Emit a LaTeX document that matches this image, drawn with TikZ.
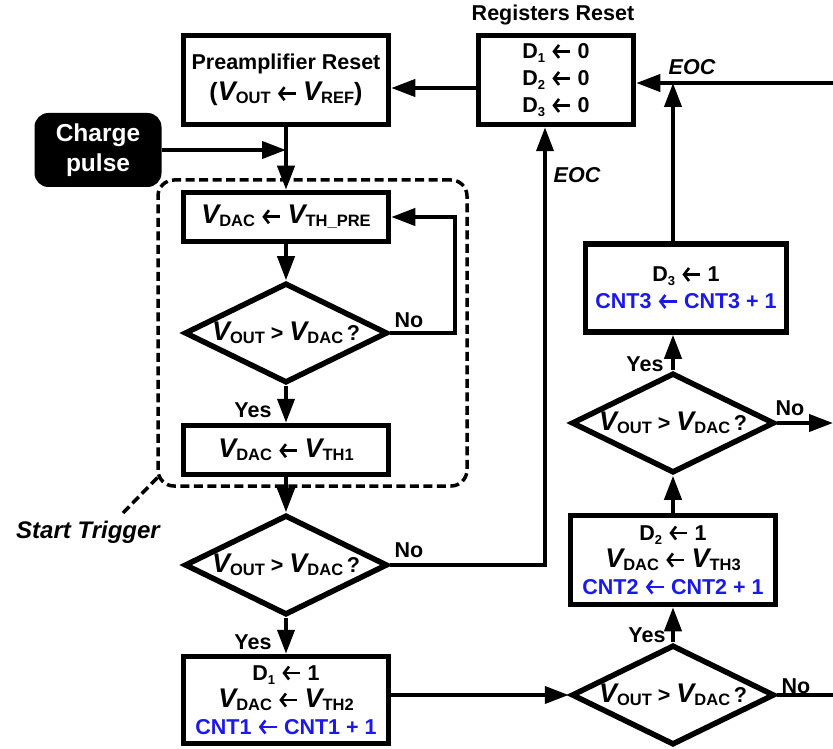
\documentclass[tikz,border=0pt]{standalone}
\usepackage{fontspec}
\setmainfont{Liberation Sans}
\usetikzlibrary{positioning, arrows.meta, shapes.geometric, fit}
\definecolor{cntblue}{RGB}{25,25,235}

\newcommand{\lar}{\tikz[baseline=-7pt]\draw[line width=2.6pt, {Straight Barb[length=5pt, width=13pt]}-] (0pt,0pt) -- (18pt,0pt);}
\newcommand{\low}[2]{\raisebox{-3pt}{\fontsize{#1}{#1}\selectfont #2}}
\newcommand{\vsig}[1]{{\fontsize{27}{27}\selectfont\itshape V}\low{16.5}{#1}}
\newcommand{\dreg}[1]{D\raisebox{-4pt}{\fontsize{13}{13}\selectfont #1}}

\begin{document}
\begin{tikzpicture}[x=1pt, y=-1pt, node distance=120pt, font=\fontsize{21.5}{27}\selectfont\bfseries]
    \tikzstyle{block} = [rectangle, draw, line width=5.5pt, align=center, inner sep=0pt, minimum width=205pt]
    \tikzstyle{decision} = [diamond, draw, line width=5.5pt, aspect=2, inner sep=0pt, minimum width=203pt, minimum height=100pt]
    \tikzstyle{pulse} = [rectangle, rounded corners=14pt, fill=black, text=white, align=center, minimum width=127pt, minimum height=74pt, font=\fontsize{24.5}{30}\selectfont\bfseries]
    \tikzstyle{arrow} = [line width=4pt, -{Triangle[length=24pt, width=17pt]}]
    \tikzstyle{wire} = [line width=4pt]
    \tikzstyle{trigger} = [draw, line width=3.5pt, dash pattern=on 9pt off 4.5pt, rounded corners=16pt, inner sep=0pt]
    \tikzstyle{tag} = [inner sep=0pt]
    \tikzstyle{eoc} = [inner sep=0pt, font=\fontsize{21.5}{27}\selectfont\bfseries\itshape]

    \useasboundingbox (0,0) rectangle (833,749);

    % left column
    \node [block, minimum height=89pt] (pre) at (286,80) {Preamplifier Reset\\[4pt]{\fontsize{25}{25}\selectfont(}\vsig{OUT} \lar{} \vsig{REF}{\fontsize{25}{25}\selectfont)}};
    \node [block, below of=pre, node distance=137pt, minimum height=49pt] (thpre) {\vsig{DAC} \lar{} \vsig{TH\_PRE}};
    \node [decision, below of=thpre, node distance=116pt] (d1) {\vsig{OUT} > \vsig{DAC}\,?};
    \node [block, below of=d1, node distance=117pt, minimum height=49pt] (th1) {\vsig{DAC} \lar{} \vsig{TH1}};
    \node [decision, below of=th1, node distance=115pt] (d2) {\vsig{OUT} > \vsig{DAC}\,?};
    \node [block, below of=d2, node distance=135pt, minimum height=87pt] (box1) {\dreg{1} \lar{} 1\\\vsig{DAC} \lar{} \vsig{TH2}\\\textcolor{cntblue}{CNT1 \lar{} CNT1 + 1}};

    \node [pulse] (charge) at (98,150) {Charge\\pulse};
    \node [block, right of=pre, node distance=270pt, minimum width=155pt, minimum height=89pt] (regs) {\dreg{1} \lar{} 0\\\dreg{2} \lar{} 0\\\dreg{3} \lar{} 0};
    \node [tag] (regtitle) at (553,15) {Registers Reset};

    % right column
    \node [decision] (d4) at (673,695) {\vsig{OUT} > \vsig{DAC}\,?};
    \node [block, above of=d4, node distance=135pt, minimum height=89pt] (box2) {\dreg{2} \lar{} 1\\\vsig{DAC} \lar{} \vsig{TH3}\\\textcolor{cntblue}{CNT2 \lar{} CNT2 + 1}};
    \node [decision, above of=box2, node distance=137pt] (d3) {\vsig{OUT} > \vsig{DAC}\,?};
    \node [block, minimum width=201pt, minimum height=88pt] (box3) at (686,288) {\dreg{3} \lar{} 1\\\textcolor{cntblue}{CNT3 \lar{} CNT3 + 1}};

    % start trigger group
    \coordinate (grpa) at (158,180);
    \coordinate (grpb) at (467,486);
    \node [trigger, fit=(grpa)(grpb)] (grp) {};
    \node [eoc, font=\fontsize{24}{27}\selectfont\bfseries\itshape] (trig) at (88,532) {Start Trigger};
    \coordinate (trigtip) at (123,513);
    \draw [trigger] (trigtip) -- ([xshift=3pt, yshift=12pt]grp.south west);

    % connectors
    \coordinate (eocin) at (833,83);
    \draw [arrow] (pre) -- (thpre);
    \draw [arrow] (charge.east) -- (charge.east -| pre.south);
    \draw [arrow] ([yshift=-8pt]regs.west) -- ([yshift=-8pt]regs.west -| pre.east);
    \draw [arrow] (eocin) -- (eocin -| regs.east);
    \draw [arrow] (d3.north |- box3.north) -- (d3.north |- eocin);
    \draw [arrow] (thpre) -- (d1);
    \draw [arrow] (d1.east) -- ++(65,0) |- (thpre.east);
    \draw [arrow] (d1) -- (th1);
    \draw [arrow] (th1) -- (d2);
    \draw [arrow] (d2.east) -| ([xshift=-11pt]regs.south);
    \draw [arrow] (d2) -- (box1);
    \draw [arrow] (box1.east |- d4.west) -- (d4.west);
    \draw [arrow] (d4) -- (box2);
    \draw [wire] (d4.east) -- (d4.east -| eocin);
    \draw [arrow] (box2) -- (d3);
    \draw [arrow] (d3) -- (d3.north |- box3.south);
    \draw [arrow] (d3.east) -- (d3.east -| eocin);

    % labels
    \node [tag] (no1) at (409,320) {No};
    \node [tag] (yes1) at (253,410) {Yes};
    \node [tag] (no2) at (409,550) {No};
    \node [tag] (yes2) at (253,642) {Yes};
    \node [tag] (yes3) at (645,364) {Yes};
    \node [tag] (no3) at (790,408) {No};
    \node [tag] (yes4) at (647,635) {Yes};
    \node [tag] (no4) at (796,686) {No};
    \node [eoc] (eoc1) at (692,67) {EOC};
    \node [eoc] (eoc2) at (577,175) {EOC};
\end{tikzpicture}
\end{document}
